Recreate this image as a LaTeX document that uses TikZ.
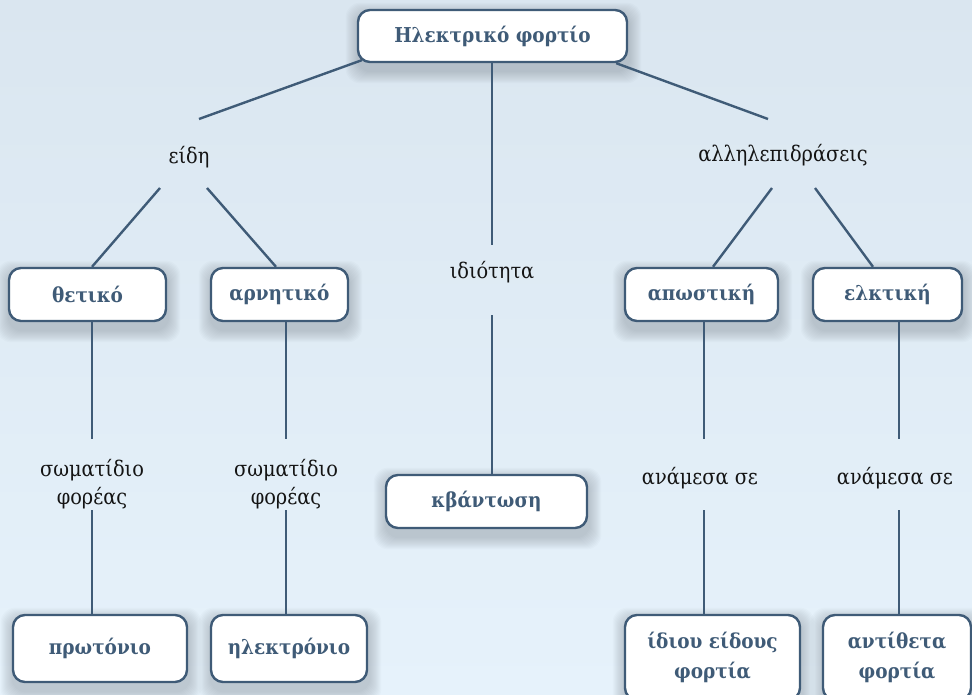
\documentclass[tikz,border=0pt]{standalone}
\usepackage{fontspec}
\setmainfont{DejaVu Serif Condensed}
\usetikzlibrary{backgrounds}
\definecolor{ink}{HTML}{3F5B77}
\definecolor{bgtop}{HTML}{DAE6F0}
\definecolor{bgbot}{HTML}{E6F2FB}
\tikzset{
 box/.style={draw=ink, line width=2.4pt, fill=white, rounded corners=12pt, text=ink,
   font=\bfseries\fontsize{20.5}{30}\selectfont, align=center, inner sep=0pt},
 lbl/.style={font=\fontsize{21.5}{28}\selectfont, text=black!92, align=center, inner sep=0pt},
 conn/.style={draw=ink, line width=2.4pt},
}
\newcommand{\softsh}[1]{%
  \foreach \k in {1,...,12}{%
    \fill[black!70!ink, opacity=0.014, rounded corners=14pt]
      ([shift={(1-\k,6-\k)}]#1.north west) rectangle ([shift={(1+\k,8+\k)}]#1.south east);}}
\begin{document}
\begin{tikzpicture}[x=1pt,y=-1pt]
\useasboundingbox (0,0) rectangle (972,694);
% boxes
\node[box, minimum width=269pt, minimum height=52pt] (top) at (492.5,36) {Ηλεκτρικό φορτίο};
\node[box, minimum width=157pt, minimum height=53pt] (thet) at (87.5,294.5) {θετικό};
\node[box, minimum width=137pt, minimum height=53pt] (arn) at (279.5,294.5) {αρνητικό};
\node[box, minimum width=153pt, minimum height=53pt] (apo) at (701.5,294.5) {απωστική};
\node[box, minimum width=149pt, minimum height=53pt] (elk) at (887.5,294.5) {ελκτική};
\node[box, minimum width=201pt, minimum height=53pt] (kvan) at (486.5,501.5) {κβάντωση};
\node[box, minimum width=174pt, minimum height=67pt] (prot) at (100,648.5) {πρωτόνιο};
\node[box, minimum width=156pt, minimum height=67pt] (ilek) at (289,648.5) {ηλεκτρόνιο};
\node[box, minimum width=175pt, minimum height=85pt] (idiou) at (712.5,657.5) {ίδιου είδους\\φορτία};
\node[box, minimum width=148pt, minimum height=85pt] (anti) at (897,657.5) {αντίθετα\\φορτία};
% labels
\node[lbl] (eidi) at (189,157) {είδη};
\node[lbl] (alli) at (783,155) {αλληλεπιδράσεις};
\node[lbl] (idiot) at (492,272) {ιδιότητα};
\node[lbl] (som1) at (92,484) {σωματίδιο\\φορέας};
\node[lbl] (som2) at (286,484) {σωματίδιο\\φορέας};
\node[lbl] (anam1) at (700,478) {ανάμεσα σε};
\node[lbl] (anam2) at (895,478) {ανάμεσα σε};
\begin{scope}[on background layer]
  \shade[top color=bgtop, bottom color=bgbot] (0,0) rectangle (972,694);
  \softsh{top}\softsh{thet}\softsh{arn}\softsh{apo}\softsh{elk}
  \softsh{kvan}\softsh{prot}\softsh{ilek}\softsh{idiou}\softsh{anti}
  % connectors
  \draw[conn] ([shift={(5,-3)}]top.south west) -- ([shift={(10,-38)}]eidi.center);
  \draw[conn] ([shift={(-12,0)}]top.south east) -- ([shift={(-15,-36)}]alli.center);
  \draw[conn] (idiot.center |- top.south) -- ([shift={(0,-27)}]idiot.center);
  \draw[conn] ([shift={(0,43)}]idiot.center) -- (idiot.center |- kvan.north);
  \draw[conn] ([shift={(-29,31)}]eidi.center) -- ([xshift=4.5pt]thet.north);
  \draw[conn] ([shift={(18,31)}]eidi.center) -- ([xshift=-3.5pt]arn.north);
  \draw[conn] ([shift={(-11,33)}]alli.center) -- ([xshift=11.5pt]apo.north);
  \draw[conn] ([shift={(32,33)}]alli.center) -- ([xshift=-14.5pt]elk.north);
  \draw[conn] (som1.center |- thet.south) -- ([shift={(0,-45)}]som1.center);
  \draw[conn] ([shift={(0,26)}]som1.center) -- (som1.center |- prot.north);
  \draw[conn] (som2.center |- arn.south) -- ([shift={(0,-45)}]som2.center);
  \draw[conn] ([shift={(0,26)}]som2.center) -- (som2.center |- ilek.north);
  \draw[conn] ([shift={(4,0)}]anam1.center |- apo.south) -- ([shift={(4,-39)}]anam1.center);
  \draw[conn] ([shift={(4,32)}]anam1.center) -- ([shift={(4,0)}]anam1.center |- idiou.north);
  \draw[conn] ([shift={(4,0)}]anam2.center |- elk.south) -- ([shift={(4,-39)}]anam2.center);
  \draw[conn] ([shift={(4,32)}]anam2.center) -- ([shift={(4,0)}]anam2.center |- anti.north);
\end{scope}
\end{tikzpicture}
\end{document}
